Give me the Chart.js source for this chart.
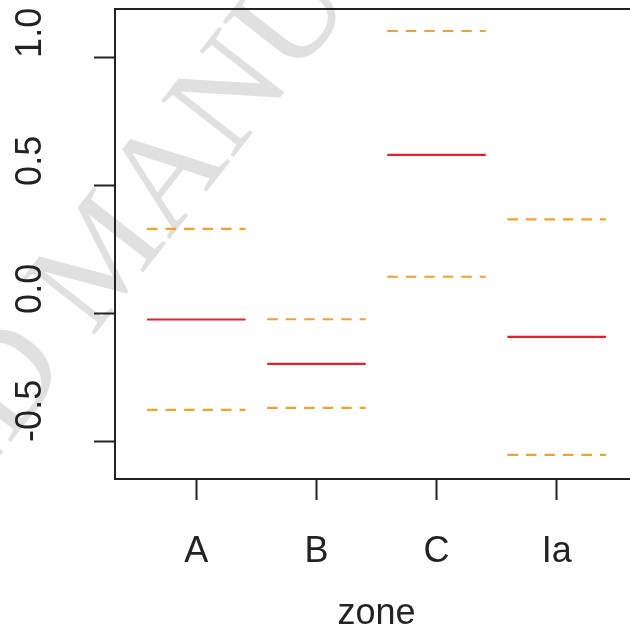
<!DOCTYPE html>
<html>
<head>
<meta charset="utf-8">
<script src="https://cdn.jsdelivr.net/npm/chart.js@4/dist/chart.umd.min.js"></script>
<style>
  html, body { margin: 0; padding: 0; background: #fff; overflow: hidden; }
  #wrap { width: 640px; height: 635px; }
</style>
</head>
<body>
<div id="wrap"><canvas id="c" width="640" height="635"></canvas></div>
<script>
// ---- data ----
const categories = ['A', 'B', 'C', 'Ia'];
const medianValues = [-0.022, -0.195, 0.621, -0.090];
const upperValues  = [0.332, -0.021, 1.105, 0.369];
const lowerValues  = [-0.375, -0.367, 0.145, -0.551];
const yTickValues  = [-0.5, 0, 0.5, 1.0];
const yTickLabels  = ['-0.5', '0.0', '0.5', '1.0'];
const xTitle = 'zone';
const watermarkBefore = 'ACCEPTED ';
const watermarkAfter = 'MANUSCRIPT';

// style constants
const HALF = 0.41;
const RED = '#E8202C';
const ORANGE = '#F5A02C';
const INK = '#222222';
const FONT = '"Liberation Sans", Arial, Helvetica, sans-serif';

function segments(values) {
  const pts = [];
  values.forEach((v, i) => {
    const c = i + 1;
    pts.push({x: c - HALF, y: v});
    pts.push({x: c + HALF, y: v});
    pts.push({x: c + HALF + 0.05, y: null});
  });
  return pts;
}

const watermark = {
  id: 'watermark',
  beforeDraw(chart) {
    const ctx = chart.ctx;
    ctx.save();
    ctx.fillStyle = '#e0e0e0';
    ctx.font = '140px "Liberation Serif", "Times New Roman", serif';
    ctx.textBaseline = 'alphabetic';
    ctx.translate(92, 338);
    ctx.rotate(-52 * Math.PI / 180);
    ctx.textAlign = 'left';
    ctx.fillText(watermarkAfter, 0, 0);
    ctx.textAlign = 'right';
    ctx.fillText(watermarkBefore, 0, 0);
    ctx.restore();
  }
};

const frame = {
  id: 'frame',
  afterDraw(chart) {
    const a = chart.chartArea;
    const ctx = chart.ctx;
    ctx.save();
    ctx.strokeStyle = INK;
    ctx.lineWidth = 2;
    ctx.strokeRect(a.left, a.top, a.right - a.left, a.bottom - a.top);
    ctx.restore();
  }
};

new Chart(document.getElementById('c'), {
  type: 'line',
  data: {
    datasets: [
      { label: 'upper', data: segments(upperValues), borderColor: ORANGE, borderWidth: 2.2, borderDash: [10.5, 8], borderCapStyle: 'butt' },
      { label: 'lower', data: segments(lowerValues), borderColor: ORANGE, borderWidth: 2.2, borderDash: [10.5, 8], borderCapStyle: 'butt' },
      { label: 'median', data: segments(medianValues), borderColor: RED, borderWidth: 2.2, borderCapStyle: 'butt' }
    ]
  },
  options: {
    responsive: false,
    animation: false,
    spanGaps: false,
    elements: { point: { radius: 0, hoverRadius: 0 }, line: { tension: 0 } },
    layout: { padding: { left: 31, top: 9, right: 2, bottom: 0 } },
    plugins: { legend: { display: false }, tooltip: { enabled: false } },
    events: [],
    scales: {
      x: {
        type: 'linear',
        min: 0.323,
        max: 4.677,
        afterBuildTicks: s => { s.ticks = categories.map((c, i) => ({ value: i + 1 })); },
        afterFit: s => { s.height = 156; s.paddingLeft = 0; s.paddingRight = 0; },
        ticks: {
          callback: (v) => categories[Math.round(v) - 1],
          font: { family: FONT, size: 36 },
          color: INK,
          padding: 30,
          maxRotation: 0,
          minRotation: 0,
          autoSkip: false
        },
        grid: { drawOnChartArea: false, drawTicks: true, tickLength: 21, tickWidth: 2, tickColor: INK },
        border: { display: false },
        title: {
          display: true,
          text: xTitle,
          font: { family: FONT, size: 36, lineHeight: 1 },
          color: INK,
          padding: { top: 0, bottom: 2.5 }
        }
      },
      y: {
        type: 'linear',
        min: -0.645,
        max: 1.191,
        afterBuildTicks: s => { s.ticks = yTickValues.map(v => ({ value: v })); },
        afterFit: s => {
          s.width = 84;
          s.paddingTop = 0;
          s.paddingBottom = 0;
          s._computeLabelArea = () => undefined;
        },
        ticks: {
          callback: (v, i) => yTickLabels[i],
          font: { family: FONT, size: 36 },
          color: INK,
          minRotation: 90,
          maxRotation: 90,
          crossAlign: 'far',
          autoSkip: false
        },
        grid: { drawOnChartArea: false, drawTicks: true, tickLength: 21, tickWidth: 2, tickColor: INK },
        border: { display: false }
      }
    }
  },
  plugins: [watermark, frame]
});
</script>
</body>
</html>
